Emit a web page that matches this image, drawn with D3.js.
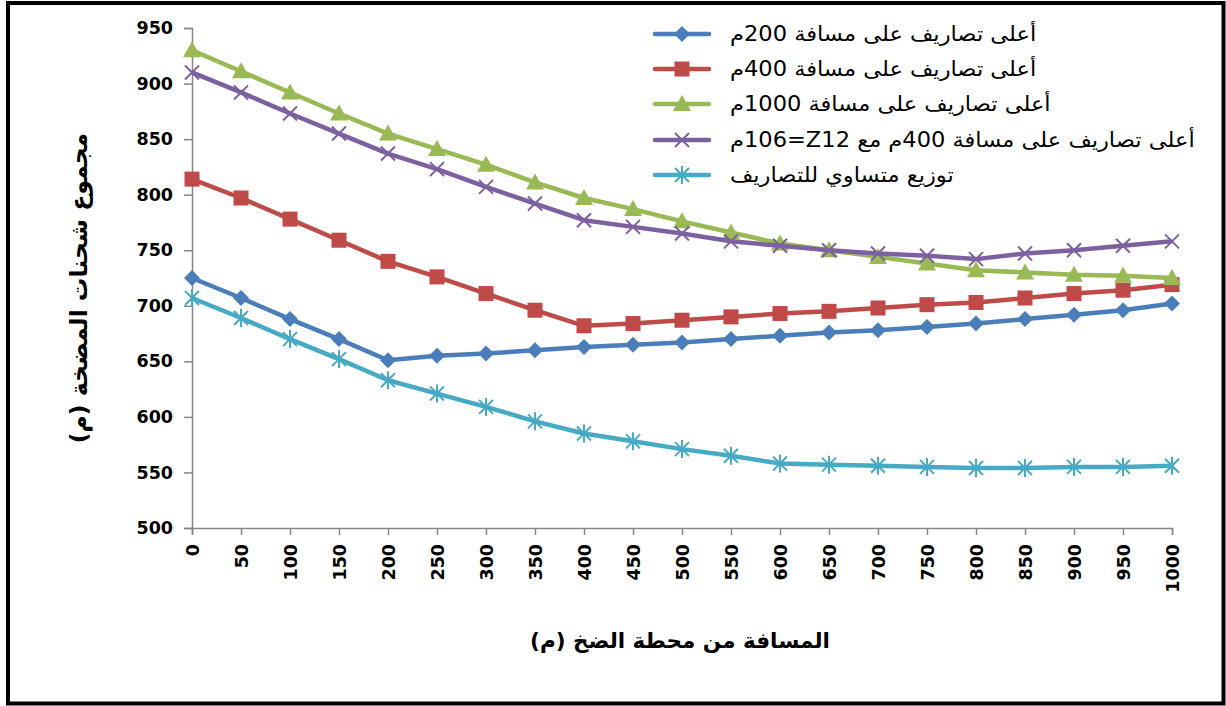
<!DOCTYPE html>
<html><head><meta charset="utf-8">
<script src="https://cdn.jsdelivr.net/npm/d3@7"></script>
<style>body{margin:0;background:#fff}svg{display:block}</style>
</head><body>
<svg id="c" width="1226" height="706"></svg>
<script>
const xValues = [0,50,100,150,200,250,300,350,400,450,500,550,600,650,700,750,800,850,900,950,1000];
const yTicks = [500,550,600,650,700,750,800,850,900,950];
const s200  = [725,707,688,670,651,655,657,660,663,665,667,670,673,676,678,681,684,688,692,696,702];
const s400  = [814,797,778,759,740,726,711,696,682,684,687,690,693,695,698,701,703,707,711,714,719];
const s1000 = [930,911,892,873,855,841,827,811,797,787,776,766,756,750,744,738,732,730,728,727,725];
const s400z = [910,892,873,855,837,823,807,792,777,771,765,758,754,750,747,745,742,747,750,754,758];
const sEq   = [707,689,670,652,633,621,609,596,585,578,571,565,558,557,556,555,554,554,555,555,556];
const seriesNames = [
  "أعلى تصاريف على مسافة 200م",
  "أعلى تصاريف على مسافة 400م",
  "أعلى تصاريف على مسافة 1000م",
  "أعلى تصاريف على مسافة 400م مع \u2066Z12\u2069=\u2066106\u2069م",
  "توزيع متساوي للتصاريف"
];
const xTitle = "المسافة من محطة الضخ (م)";
const yTitle = "مجموع شحنات المضخة (م)";

const colors = ["#4A7EBB","#BE4B48","#98B954","#7D60A0","#46AAC5"];
const markers = ["diamond","square","triangle","x","star"];
const data = [s200,s400,s1000,s400z,sEq];

const svg = d3.select("#c");
svg.append("rect").attr("x",8).attr("y",3).attr("width",1215.5).attr("height",700.5)
  .attr("fill","none").attr("stroke","#000").attr("stroke-width",4);

const x = d3.scaleLinear().domain([0,1000]).range([192,1172]);
const y = d3.scaleLinear().domain([500,950]).range([528,28]);
const axisColor = "#868686";
const numFont = "DejaVu Sans";

const yAxis = svg.append("g").attr("transform","translate(192,0)")
  .call(d3.axisLeft(y).tickValues(yTicks).tickSize(8).tickPadding(11));
const xAxis = svg.append("g").attr("transform","translate(0,528)")
  .call(d3.axisBottom(x).tickValues(xValues).tickSize(7).tickFormat(d3.format("d")));
[yAxis,xAxis].forEach(g=>{
  g.select(".domain").attr("stroke",axisColor).attr("stroke-width",1.5);
  g.selectAll(".tick line").attr("stroke",axisColor).attr("stroke-width",1.5);
  g.selectAll("text").attr("fill","#000").style("font-family",numFont)
   .style("font-weight","bold").style("font-size","17.5px");
});
xAxis.selectAll(".tick text").attr("transform","rotate(-90)")
  .attr("text-anchor","end").attr("x",-16).attr("y",0).attr("dy","0.36em");

svg.append("text").attr("x",680).attr("y",648).attr("text-anchor","middle")
  .attr("direction","rtl").style("font-family","DejaVu Sans").style("font-weight","bold")
  .style("font-size","21.5px").text(xTitle);
svg.append("text").attr("transform","translate(87,288) rotate(-90)").attr("text-anchor","middle")
  .attr("direction","rtl").style("font-family","DejaVu Sans").style("font-weight","bold")
  .style("font-size","23.5px").text(yTitle);

function drawMarker(g, type, color){
  if(type==="diamond") g.append("path").attr("d","M0,-8L8,0L0,8L-8,0Z").attr("fill",color);
  else if(type==="square") g.append("rect").attr("x",-7.5).attr("y",-7.5).attr("width",15).attr("height",15).attr("fill",color);
  else if(type==="triangle") g.append("path").attr("d","M0,-9L9,7L-9,7Z").attr("fill",color);
  else if(type==="x") g.append("path").attr("d","M-7,-7L7,7M-7,7L7,-7").attr("stroke",color).attr("stroke-width",2).attr("fill","none");
  else if(type==="star") g.append("path").attr("d","M-7,-7L7,7M-7,7L7,-7M0,-9L0,9").attr("stroke",color).attr("stroke-width",2).attr("fill","none");
}

const line = d3.line().x((d,i)=>x(xValues[i])).y(d=>y(d));
data.forEach((vals,si)=>{
  const g = svg.append("g");
  g.append("path").datum(vals).attr("d",line).attr("fill","none")
    .attr("stroke",colors[si]).attr("stroke-width",4.5).attr("stroke-linejoin","round");
  vals.forEach((v,i)=>{
    const m = g.append("g").attr("transform",`translate(${x(xValues[i])},${y(v)})`);
    drawMarker(m, markers[si], colors[si]);
  });
});

// legend
const legY = [34,69,104,140,175];
seriesNames.forEach((name,i)=>{
  const g = svg.append("g").attr("transform",`translate(0,${legY[i]})`);
  g.append("line").attr("x1",655).attr("x2",709).attr("y1",0).attr("y2",0)
    .attr("stroke",colors[i]).attr("stroke-width",4.5).attr("stroke-linecap","round");
  const m = g.append("g").attr("transform","translate(682,0)");
  drawMarker(m, markers[i], colors[i]);
  g.append("text").attr("transform","translate(730,0) scale(1.1,1)").attr("dy","0.35em")
    .attr("direction","rtl").attr("text-anchor","end")
    .style("font-family","DejaVu Sans").style("font-size","20.5px").text(name);
});
</script>
</body></html>
